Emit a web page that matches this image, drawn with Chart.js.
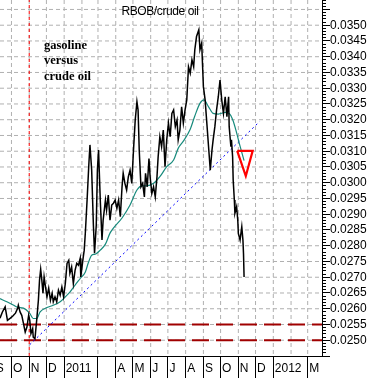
<!DOCTYPE html>
<html>
<head>
<meta charset="utf-8">
<script src="https://cdn.jsdelivr.net/npm/chart.js@4.4.1/dist/chart.umd.min.js"></script>
<style>
  html, body { margin: 0; padding: 0; background: #fff; }
  canvas { display: block; }
</style>
</head>
<body>
<canvas id="ratioChart" width="371" height="378"></canvas>
<script>
// daily RBOB/crude ratio
const ratioDates = [
  "2010-09-11", "2010-09-15", "2010-09-20", "2010-09-24", "2010-09-29",
  "2010-10-03", "2010-10-08", "2010-10-12", "2010-10-13", "2010-10-16",
  "2010-10-19", "2010-10-22", "2010-10-25", "2010-10-28", "2010-10-31",
  "2010-11-02", "2010-11-04", "2010-11-07", "2010-11-08", "2010-11-11",
  "2010-11-14", "2010-11-17", "2010-11-19", "2010-11-21", "2010-11-23",
  "2010-11-25", "2010-11-27", "2010-11-29", "2010-12-02", "2010-12-05",
  "2010-12-08", "2010-12-11", "2010-12-13", "2010-12-16", "2010-12-19",
  "2010-12-22", "2010-12-25", "2010-12-28", "2010-12-31", "2011-01-03",
  "2011-01-06", "2011-01-09", "2011-01-11", "2011-01-14", "2011-01-17",
  "2011-01-20", "2011-01-23", "2011-01-26", "2011-01-29", "2011-01-30",
  "2011-02-03", "2011-02-05", "2011-02-07", "2011-02-10", "2011-02-13",
  "2011-02-15", "2011-02-18", "2011-02-21", "2011-02-23", "2011-02-26",
  "2011-02-28", "2011-03-02", "2011-03-05", "2011-03-08", "2011-03-10",
  "2011-03-14", "2011-03-16", "2011-03-19", "2011-03-22", "2011-03-25",
  "2011-03-28", "2011-03-31", "2011-04-03", "2011-04-06", "2011-04-09",
  "2011-04-12", "2011-04-14", "2011-04-17", "2011-04-20", "2011-04-23",
  "2011-04-26", "2011-04-29", "2011-05-02", "2011-05-05", "2011-05-08",
  "2011-05-10", "2011-05-12", "2011-05-15", "2011-05-18", "2011-05-21",
  "2011-05-23", "2011-05-26", "2011-05-29", "2011-05-31", "2011-06-03",
  "2011-06-06", "2011-06-09", "2011-06-12", "2011-06-14", "2011-06-17",
  "2011-06-20", "2011-06-23", "2011-06-26", "2011-06-29", "2011-07-02",
  "2011-07-05", "2011-07-08", "2011-07-11", "2011-07-14", "2011-07-17",
  "2011-07-19", "2011-07-22", "2011-07-25", "2011-07-28", "2011-07-31",
  "2011-08-03", "2011-08-06", "2011-08-09", "2011-08-12", "2011-08-15",
  "2011-08-17", "2011-08-20", "2011-08-24", "2011-08-26", "2011-08-29",
  "2011-09-01", "2011-09-04", "2011-09-07", "2011-09-10", "2011-09-13",
  "2011-09-16", "2011-09-18", "2011-09-21", "2011-09-24", "2011-09-27",
  "2011-09-30", "2011-10-03", "2011-10-06", "2011-10-09", "2011-10-12",
  "2011-10-15", "2011-10-16", "2011-10-19", "2011-10-20", "2011-10-22",
  "2011-10-23", "2011-10-25", "2011-10-26", "2011-10-29", "2011-10-31",
  "2011-11-01", "2011-11-04", "2011-11-07", "2011-11-09", "2011-11-10",
  "2011-11-11",
];
const ratioValues = [
  0.02570, 0.02589, 0.02606, 0.02563, 0.02570,
  0.02576, 0.02586, 0.02602, 0.02611, 0.02590,
  0.02579, 0.02553, 0.02526, 0.02542, 0.02579,
  0.02563, 0.02521, 0.02537, 0.02510, 0.02505,
  0.02563, 0.02627, 0.02691, 0.02725, 0.02691,
  0.02649, 0.02701, 0.02675, 0.02638, 0.02665,
  0.02627, 0.02649, 0.02622, 0.02638, 0.02622,
  0.02659, 0.02643, 0.02669, 0.02638, 0.02680,
  0.02744, 0.02754, 0.02712, 0.02733, 0.02680,
  0.02722, 0.02744, 0.02738, 0.02760, 0.02701,
  0.02760, 0.02786, 0.02843, 0.02945, 0.03056,
  0.03120, 0.03040, 0.02865, 0.02776, 0.02865,
  0.03040, 0.03104, 0.02945, 0.02818, 0.02881,
  0.02945, 0.02913, 0.02961, 0.02881, 0.02929,
  0.02935, 0.02945, 0.02919, 0.02945, 0.02892,
  0.02987, 0.03030, 0.02998, 0.02977, 0.03019,
  0.03040, 0.02998, 0.03104, 0.03199, 0.03257,
  0.03231, 0.03104, 0.02987, 0.02998, 0.02955,
  0.03030, 0.02987, 0.03077, 0.03019, 0.02966,
  0.02987, 0.02955, 0.03019, 0.03082, 0.03146,
  0.03114, 0.03167, 0.03051, 0.03136, 0.03189,
  0.03146, 0.03220, 0.03231, 0.03178, 0.03199,
  0.03136, 0.03167, 0.03241, 0.03189, 0.03231,
  0.03263, 0.03368, 0.03348, 0.03390, 0.03368,
  0.03422, 0.03464, 0.03485, 0.03422, 0.03443,
  0.03305, 0.03263, 0.03189, 0.03114, 0.03040,
  0.03104, 0.03136, 0.03178, 0.03231, 0.03273,
  0.03326, 0.03263, 0.03220, 0.03273, 0.03210,
  0.03273, 0.03178, 0.03114, 0.03136, 0.03082,
  0.03008, 0.02945, 0.02903, 0.02924, 0.02881,
  0.02839, 0.02818, 0.02860, 0.02818, 0.02775,
  0.02701,
];

// moving average (teal)
const maDates = [
  "2010-09-11", "2010-09-23", "2010-10-05", "2010-10-11", "2010-10-22",
  "2010-11-02", "2010-11-08", "2010-11-14", "2010-11-20", "2010-12-02",
  "2010-12-13", "2010-12-25", "2011-01-03", "2011-01-11", "2011-01-20",
  "2011-01-29", "2011-02-07", "2011-02-12", "2011-02-18", "2011-02-24",
  "2011-03-05", "2011-03-14", "2011-03-22", "2011-03-28", "2011-04-12",
  "2011-04-26", "2011-05-08", "2011-05-17", "2011-05-25", "2011-06-06",
  "2011-06-17", "2011-06-29", "2011-07-11", "2011-07-19", "2011-07-28",
  "2011-08-09", "2011-08-17", "2011-08-26", "2011-09-02", "2011-09-10",
  "2011-09-18", "2011-09-27", "2011-10-09", "2011-10-16", "2011-10-23",
  "2011-10-29", "2011-11-04", "2011-11-11",
];
const maValues = [
  0.02632, 0.02622, 0.02611, 0.02605, 0.02602,
  0.02585, 0.02569, 0.02569, 0.02590, 0.02604,
  0.02611, 0.02622, 0.02638, 0.02653, 0.02675,
  0.02696, 0.02717, 0.02745, 0.02770, 0.02773,
  0.02786, 0.02805, 0.02840, 0.02856, 0.02888,
  0.02929, 0.02977, 0.02990, 0.02990, 0.02998,
  0.03019, 0.03051, 0.03072, 0.03109, 0.03132,
  0.03170, 0.03212, 0.03252, 0.03263, 0.03241,
  0.03220, 0.03218, 0.03223, 0.03220, 0.03196,
  0.03158, 0.03116, 0.03070,
];

const trendDates = ["2010-11-02", "2011-12-08"];
const trendValues = [0.02486, 0.03194];
const supportLevels = [0.0255, 0.0250];
const markerDate = "2010-11-01";
const triangleDates = ["2011-10-30", "2011-11-26", "2011-11-14", "2011-10-30"];
const triangleValues = [0.03101, 0.03101, 0.03021, 0.03101];

const monthStarts = [
  "2010-09-01", "2010-10-01", "2010-11-01", "2010-12-01", "2011-01-01",
  "2011-02-01", "2011-03-01", "2011-04-01", "2011-05-01", "2011-06-01",
  "2011-07-01", "2011-08-01", "2011-09-01", "2011-10-01", "2011-11-01",
  "2011-12-01", "2012-01-01", "2012-02-01", "2012-03-01",
];
const monthLabels = [
  "S", "O", "N", "D", "2011", "", "", "A", "M", "J",
  "J", "A", "S", "O", "N", "D", "2012", "", "M",
];
const noSeparator = ["2011-02-01", "2012-02-01"];
const gridLevels = [
  0.0250, 0.0255, 0.0260, 0.0265, 0.0270, 0.0275, 0.0280, 0.0285,
  0.0290, 0.0295, 0.0300, 0.0305, 0.0310, 0.0315, 0.0320, 0.0325,
  0.0330, 0.0335, 0.0340, 0.0345, 0.0350, 0.0355,
];
const xRange = ["2010-09-11", "2012-03-26"];
const yRange = [0.0245, 0.0358];
const labelRange = [0.0250, 0.0350];

const chartTitle = "RBOB/crude oil";
const noteLines = ["gasoline", "versus", "crude oil"];

function dayNum(s) {
  const [y, m, d] = s.split("-").map(Number);
  return (Date.UTC(y, m - 1, d) - Date.UTC(2011, 0, 1)) / 86400000;
}

function toPoints(dates, values) {
  return dates.map((d, i) => ({ x: dayNum(d), y: values[i] }));
}

function isMajor(v) {
  return Math.round(v * 10000) % 5 === 0;
}

const xMin = dayNum(xRange[0]);
const xMax = dayNum(xRange[1]);
const sansFont = '"Liberation Sans", Arial, sans-serif';
const gridGray = "#b0b0b0";

const notesPlugin = {
  id: "notes",
  afterDraw(chart) {
    const ctx = chart.ctx;
    ctx.save();
    ctx.fillStyle = "#000";
    ctx.font = "12px " + sansFont;
    ctx.textAlign = "center";
    if ("letterSpacing" in ctx) ctx.letterSpacing = "-0.4px";
    ctx.fillText(chartTitle, 160, 15);
    if ("letterSpacing" in ctx) ctx.letterSpacing = "0px";
    ctx.font = 'bold 12.5px "Liberation Serif", "Times New Roman", serif';
    ctx.textAlign = "left";
    noteLines.forEach((line, i) => {
      ctx.fillText(line, 44, 48.5 + i * 15.5);
    });
    ctx.restore();
  },
};

const datasets = [
  {
    data: toPoints(triangleDates, triangleValues),
    borderColor: "#ff0000",
    borderWidth: 2.2,
    borderJoinStyle: "miter",
  },
  {
    data: toPoints(ratioDates, ratioValues),
    borderColor: "#000000",
    borderWidth: 1.5,
  },
  {
    data: toPoints(maDates, maValues),
    borderColor: "#178a7c",
    borderWidth: 1.2,
    cubicInterpolationMode: "monotone",
  },
  {
    data: toPoints(trendDates, trendValues),
    borderColor: "#0000ff",
    borderWidth: 1,
    borderDash: [2, 3],
  },
  {
    data: [
      { x: dayNum(markerDate), y: yRange[0] },
      { x: dayNum(markerDate), y: yRange[1] },
    ],
    borderColor: "#ff0000",
    borderWidth: 1,
    borderDash: [3, 3],
  },
];

supportLevels.forEach((level) => {
  datasets.push({
    data: [
      { x: xMin, y: level },
      { x: xMax, y: level },
    ],
    borderColor: "#a00000",
    borderWidth: 2,
    borderDash: [17, 7],
  });
});

// dashed grid, drawn underneath everything else
monthStarts.forEach((d) => {
  const x = dayNum(d);
  if (x <= xMin || x >= xMax) return;
  datasets.push({
    data: [
      { x: x, y: yRange[1] },
      { x: x, y: yRange[0] },
    ],
    borderColor: gridGray,
    borderWidth: 1,
    borderDash: [4, 3],
  });
});
gridLevels.forEach((level) => {
  datasets.push({
    data: [
      { x: xMin, y: level },
      { x: xMax, y: level },
    ],
    borderColor: gridGray,
    borderWidth: 1,
    borderDash: [4, 3],
  });
});

new Chart(document.getElementById("ratioChart"), {
  type: "line",
  data: { datasets: datasets },
  options: {
    responsive: false,
    animation: false,
    events: [],
    layout: { padding: 0 },
    elements: { point: { radius: 0 }, line: { tension: 0 } },
    plugins: {
      legend: { display: false },
      tooltip: { enabled: false },
    },
    scales: {
      x: {
        type: "linear",
        position: "bottom",
        min: xMin,
        max: xMax,
        bounds: "data",
        afterBuildTicks: (scale) => {
          scale.ticks = monthStarts.map((d) => ({ value: dayNum(d) }));
        },
        afterFit: (scale) => {
          scale.height = 22;
          scale.paddingLeft = 0;
          scale.paddingRight = 0;
        },
        grid: {
          drawOnChartArea: false,
          tickLength: 22,
          tickWidth: 1,
          tickColor: (ctx) =>
            noSeparator.includes(monthStarts[ctx.index]) ? "rgba(0,0,0,0)" : "#000",
          tickBorderDash: [],
        },
        border: { color: "#000", width: 1 },
        ticks: {
          autoSkip: false,
          maxRotation: 0,
          minRotation: 0,
          align: "start",
          labelOffset: 1.5,
          padding: -17,
          color: "#000",
          font: { family: sansFont, size: 12 },
          callback: (value, index) => monthLabels[index],
        },
      },
      y: {
        type: "linear",
        position: "right",
        min: yRange[0],
        max: yRange[1],
        bounds: "data",
        afterFit: (scale) => {
          scale.width = 49;
          scale.paddingTop = 0;
          scale.paddingBottom = 0;
        },
        grid: {
          drawOnChartArea: false,
          tickColor: "#000",
          tickWidth: 1,
          tickLength: 8,
          tickBorderDash: (ctx) => (isMajor(ctx.tick.value) ? [] : [3, 40]),
        },
        border: { color: "#000", width: 1 },
        ticks: {
          stepSize: 0.0001,
          maxTicksLimit: 1000,
          autoSkip: false,
          padding: 0,
          color: "#000",
          font: { family: sansFont, size: 12 },
          callback: (v) =>
            isMajor(v) && v > labelRange[0] - 1e-6 && v < labelRange[1] + 1e-6
              ? v.toFixed(4)
              : "",
        },
      },
    },
  },
  plugins: [notesPlugin],
});
</script>
</body>
</html>
